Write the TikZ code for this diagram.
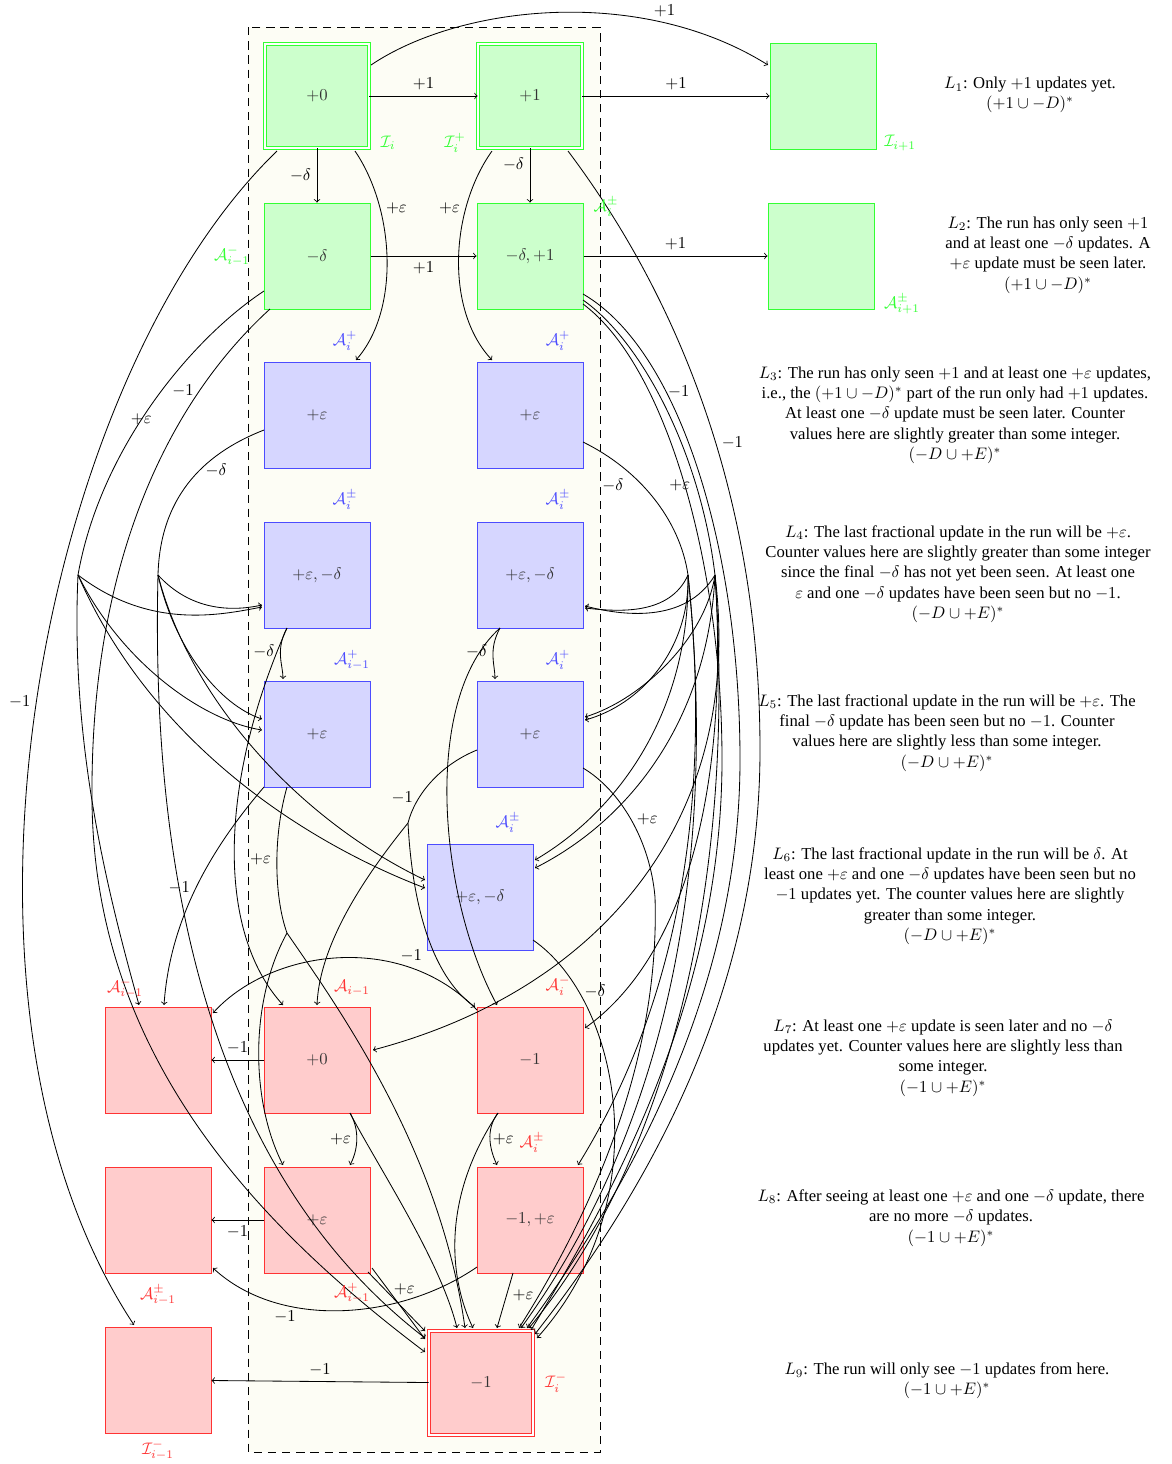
\documentclass[tikz,border=0pt]{standalone}
\usepackage{fontspec}
\setmainfont{Liberation Serif}
\usetikzlibrary{calc}
\definecolor{ivory}{RGB}{253,253,245}
\begin{document}
\begin{tikzpicture}[x=0.6pt,y=-0.6pt,
  box/.style={minimum width=63.6pt,minimum height=63.6pt,inner sep=0pt,line width=0.6pt,text=black!80},
  gbox/.style={box,fill=green!20,draw=green!80},
  bbox/.style={box,fill=blue!16,draw=blue!70},
  rbox/.style={box,fill=red!20,draw=red!80},
  dbl/.style={double=white,double distance=1.4pt,line width=0.5pt,minimum width=62.4pt,minimum height=62.4pt},
  e/.style={->,line width=0.5pt},
  ln/.style={line width=0.5pt},
  gl/.style={text=green!80,inner sep=1pt},
  bl/.style={text=blue!70,inner sep=1pt},
  rl/.style={text=red!80,inner sep=1pt},
  txt/.style={align=center,font=\fontsize{10}{12.2}\selectfont}
]
\useasboundingbox (0,0) rectangle (1172,1464);
\draw[dash pattern=on 5pt off 3.5pt,fill=ivory,line width=0.6pt] (248,27) rectangle (600,1452);

% boxes
\node[gbox,dbl] (Ii)  at (317,96) {$+0$};
\node[gbox,dbl] (Iip) at (530,96) {$+1$};
\node[gbox] (Iin) at (823,96) {};
\node[gbox] (Am)  at (317,256) {$-\delta$};
\node[gbox] (Apm) at (530,256) {$-\delta,+1$};
\node[gbox] (Apmn) at (821,256) {};
\node[bbox] (B1) at (317,415) {$+\varepsilon$};
\node[bbox] (B2) at (530,415) {$+\varepsilon$};
\node[bbox] (B3) at (317,575) {$+\varepsilon,-\delta$};
\node[bbox] (B4) at (530,575) {$+\varepsilon,-\delta$};
\node[bbox] (B5) at (317,734) {$+\varepsilon$};
\node[bbox] (B6) at (530,734) {$+\varepsilon$};
\node[bbox] (B7) at (480,897) {$+\varepsilon,-\delta$};
\node[rbox] (R1) at (158,1060) {};
\node[rbox] (R2) at (317,1060) {$+0$};
\node[rbox] (R3) at (530,1060) {$-1$};
\node[rbox] (R4) at (158,1220) {};
\node[rbox] (R5) at (317,1220) {$+\varepsilon$};
\node[rbox] (R6) at (530,1220) {$-1,+\varepsilon$};
\node[rbox] (R7) at (158,1380) {};
\node[rbox,dbl] (R8) at (481,1383) {$-1$};

% fan points
\coordinate (fA) at (78,575);
\coordinate (fB) at (158,575);
\coordinate (fC) at (688,575);
\coordinate (fD) at (715,575);
\coordinate (fE) at (287,933);
\coordinate (fF) at (655,897);
\coordinate (fG) at (408,823);

% top edges
\draw[e] (Ii) -- node[above]{$+1$} (Iip);
\draw[e] (Iip) -- node[above]{$+1$} (Iin);
\draw[e] ($(Ii)+(54,-31)$) .. controls (460,5) and (640,-15) .. ($(Iin)+(-55,-31)$) node[pos=0.75,above]{$+1$};
\draw[e] (Ii) -- node[left]{$-\delta$} (Am);
\draw[e] (Iip) -- node[left,pos=0.3]{$-\delta$} (Apm);
\draw[e] (Am) -- node[below]{$+1$} (Apm);
\draw[e] (Apm) -- node[above]{$+1$} (Apmn);
\draw[e] ($(Ii)+(38,55)$) .. controls (395,210) and (400,310) .. ($(B1)+(39,-55)$) node[pos=0.28,right]{$+\varepsilon$};
\draw[e] ($(Iip)+(-38,55)$) .. controls (450,210) and (445,310) .. ($(B2)+(-38,-55)$) node[pos=0.28,left]{$+\varepsilon$};

% long left curves
\draw[e] ($(Ii)+(-40,55)$) .. controls (40,380) and (-80,1000) .. ($(R7)+(-24,-55)$) node[pos=0.5,left]{$-1$};
\draw[ln] ($(Am)+(-53,35)$) .. controls (190,340) and (100,450) .. (fA) node[pos=0.55]{$+\varepsilon$};
\draw[e] ($(Am)+(-47,53)$) .. controls (170,400) and (90,560) .. (92,800) node[pos=0.25,left]{$-1$} .. controls (94,1050) and (250,1220) .. ($(R8)+(-56,-31)$);
\draw[ln] ($(B1)+(-53,15)$) .. controls (200,455) and (160,500) .. (fB) node[pos=0.4,right]{$-\delta$};

% long right curves
\draw[e] ($(Iip)+(38,55)$) .. controls (680,300) and (760,500) .. (760,750) node[pos=0.55,right]{$-1$} .. controls (760,1000) and (640,1200) .. ($(R8)+(54,-49)$);
\draw[ln] ($(Apm)+(53,44)$) .. controls (640,340) and (700,450) .. (fD) node[pos=0.75,left]{$+\varepsilon$};
\draw[e] ($(Apm)+(53,38)$) .. controls (680,350) and (740,550) .. (740,760) node[pos=0.33,right,inner sep=1pt]{$-1$} .. controls (740,1000) and (620,1200) .. ($(R8)+(46,-55)$);
\draw[e] ($(Apm)+(53,48)$) .. controls (665,365) and (722,560) .. (722,760) .. controls (722,1000) and (610,1200) .. ($(R8)+(50,-53)$);
\draw[ln] ($(B2)+(53,27)$) .. controls (640,470) and (680,520) .. (fC) node[pos=0.3,below left]{$-\delta$};

% right fans
\draw[e] (fC) .. controls (670,615) and (620,612) .. ($(B4)+(55,33)$);
\draw[e] (fD) .. controls (685,625) and (620,615) .. ($(B4)+(55,31)$);
\draw[e] (fC) .. controls (690,650) and (640,705) .. ($(B6)+(55,-14)$);
\draw[e] (fD) .. controls (705,640) and (640,700) .. ($(B6)+(55,-17)$);
\draw[e] (fC) .. controls (690,710) and (620,810) .. ($(B7)+(55,-37)$);
\draw[e] (fD) .. controls (708,720) and (630,820) .. ($(B7)+(55,-29)$);
\draw[e] (fC) .. controls (712,800) and (680,1000) .. ($(R6)+(48,-55)$);
\draw[e] (fC) .. controls (722,900) and (650,1150) .. ($(R8)+(40,-55)$);
\draw[e] (fD) .. controls (730,800) and (680,960) .. ($(R3)+(55,-32)$);
\draw[e] (fD) .. controls (745,820) and (600,990) .. ($(R2)+(56,-10)$);
\draw[e] (fD) .. controls (738,900) and (660,1170) .. ($(R8)+(48,-55)$);

% left fans
\draw[e] (fA) .. controls (150,630) and (220,615) .. ($(B3)+(-55,32)$);
\draw[e] (fB) .. controls (190,610) and (230,612) .. ($(B3)+(-55,30)$);
\draw[e] (fA) .. controls (120,660) and (200,720) .. ($(B5)+(-55,-4)$);
\draw[e] (fB) .. controls (175,650) and (220,705) .. ($(B5)+(-55,-15)$);
\draw[e] (fA) .. controls (150,740) and (300,840) .. ($(B7)+(-55,-9)$);
\draw[e] (fB) .. controls (190,700) and (300,820) .. ($(B7)+(-55,-17)$);
\draw[e] (fA) .. controls (70,750) and (110,900) .. ($(R1)+(-19,-55)$);
\draw[e] (fB) .. controls (150,900) and (220,1180) .. ($(R8)+(-56,-45)$);

% centre edges
\draw[e] ($(B3)+(-30,53)$) .. controls (275,650) and (283,665) .. ($(B5)+(-34,-55)$) node[pos=0.4,left]{$-\delta$};
\draw[e] ($(B4)+(-30,53)$) .. controls (488,650) and (495,665) .. ($(B6)+(-35,-55)$) node[pos=0.4,left]{$-\delta$};
\draw[e] ($(B3)+(-30,53)$) .. controls (220,780) and (215,930) .. ($(R2)+(-34,-55)$);
\draw[e] ($(B4)+(-30,53)$) .. controls (420,700) and (440,900) .. ($(R3)+(-33,-55)$);
\draw[ln] ($(B5)+(-30,53)$) .. controls (272,840) and (275,900) .. (fE) node[pos=0.45,left]{$+\varepsilon$};
\draw[e] (fE) .. controls (250,1000) and (250,1100) .. ($(R5)+(-34,-55)$);
\draw[e] (fE) .. controls (340,1010) and (440,1150) .. ($(R8)+(-16,-55)$);
\draw[e] ($(B5)+(-53,53)$) .. controls (210,850) and (170,920) .. ($(R1)+(6,-55)$) node[pos=0.5,left]{$-1$};
\draw[ln] ($(B6)+(-53,16)$) .. controls (440,765) and (415,795) .. (fG) node[pos=0.7,left]{$-1$};
\draw[e] (fG) .. controls (370,870) and (320,940) .. ($(R2)+(0,-55)$);
\draw[e] (fG) .. controls (412,900) and (430,975) .. ($(R3)+(-55,-53)$);
\draw[ln] ($(B6)+(53,34)$) .. controls (620,790) and (650,840) .. (fF) node[pos=0.5,right]{$+\varepsilon$};
\draw[e] (fF) .. controls (660,1050) and (600,1200) .. ($(R8)+(38,-55)$);
\draw[e] ($(B7)+(53,43)$) .. controls (620,1000) and (660,1200) .. ($(R8)+(56,-45)$) node[pos=0.2,right]{$-\delta$};

% red edges
\draw[e] (R2) -- node[above]{$-1$} (R1);
\draw[e] (R5) -- node[below]{$-1$} (R4);
\draw[e] (R8) -- node[above]{$-1$} (R7);
\draw[e] ($(R3)+(-53,-50)$) .. controls (400,930) and (270,950) .. ($(R1)+(55,-47)$) node[pos=0.25,above]{$-1$};
\draw[e] ($(R2)+(33,53)$) .. controls (360,1130) and (358,1150) .. ($(R5)+(33,-55)$) node[pos=0.5,left]{$+\varepsilon$};
\draw[e] ($(R3)+(-32,53)$) .. controls (485,1130) and (490,1150) .. ($(R6)+(-33,-55)$) node[pos=0.5,right,inner sep=1.5pt]{$+\varepsilon$};
\draw[e] ($(R6)+(-53,47)$) .. controls (400,1320) and (280,1330) .. ($(R4)+(55,48)$) node[pos=0.7,below]{$-1$};
\draw[e] ($(R2)+(33,53)$) .. controls (380,1170) and (440,1260) .. ($(R8)+(-24,-55)$);
\draw[e] ($(R3)+(-32,53)$) .. controls (440,1200) and (450,1280) .. ($(R8)+(-8,-55)$);
\draw[e] ($(R5)+(51,52)$) -- ($(R8)+(-56,-52)$);
\draw[e] ($(R5)+(55,48)$) -- ($(R8)+(-56,-44)$) node[pos=0.3,right]{$+\varepsilon$};
\draw[e] ($(R6)+(-17,53)$) -- ($(R8)+(16,-55)$) node[pos=0.4,right]{$+\varepsilon$};

% state labels
\node[gl] (lIi) at (388,143) {$\mathcal{I}_i$};
\node[gl] (lIip) at (455,143) {$\mathcal{I}_i^+$};
\node[gl] (lIin) at (900,143) {$\mathcal{I}_{i+1}$};
\node[gl] (lAm) at (232,256) {$\mathcal{A}_{i-1}^-$};
\node[gl] (lApm) at (606,207) {$\mathcal{A}_i^\pm$};
\node[gl] (lApmn) at (902,304) {$\mathcal{A}_{i+1}^\pm$};
\node[bl] (lB1) at (345,341) {$\mathcal{A}_i^+$};
\node[bl] (lB2) at (558,341) {$\mathcal{A}_i^+$};
\node[bl] (lB3) at (345,500) {$\mathcal{A}_i^\pm$};
\node[bl] (lB4) at (558,500) {$\mathcal{A}_i^\pm$};
\node[bl] (lB5) at (352,660) {$\mathcal{A}_{i-1}^+$};
\node[bl] (lB6) at (558,660) {$\mathcal{A}_i^+$};
\node[bl] (lB7) at (508,823) {$\mathcal{A}_i^\pm$};
\node[rl] (lR1) at (125,988) {$\mathcal{A}_{i-1}^-$};
\node[rl] (lR2) at (352,988) {$\mathcal{A}_{i-1}$};
\node[rl] (lR3) at (558,986) {$\mathcal{A}_i^-$};
\node[rl] (lR4) at (158,1295) {$\mathcal{A}_{i-1}^\pm$};
\node[rl] (lR5) at (352,1293) {$\mathcal{A}_{i-1}^+$};
\node[rl] (lR6) at (532,1143) {$\mathcal{A}_i^\pm$};
\node[rl] (lR7) at (158,1450) {$\mathcal{I}_{i-1}^-$};
\node[rl] (lR8) at (556,1383) {$\mathcal{I}_i^-$};

% level descriptions
\node[txt] (L1) at (1030,95) {$L_1$: Only $+1$ updates yet.\\ $(+1\cup -D)^*$};
\node[txt] (L2) at (1048,255) {$L_2$: The run has only seen $+1$\\ and at least one $-\delta$ updates. A\\ $+\varepsilon$ update must be seen later.\\ $(+1\cup -D)^*$};
\node[txt] (L3) at (955,415) {$L_3$: The run has only seen $+1$ and at least one $+\varepsilon$ updates,\\ i.e., the $(+1\cup -D)^*$ part of the run only had $+1$ updates.\\ At least one $-\delta$ update must be seen later. Counter\\ values here are slightly greater than some integer.\\ $(-D\cup +E)^*$};
\node[txt] (L4) at (958,574) {$L_4$: The last fractional update in the run will be $+\varepsilon$.\\ Counter values here are slightly greater than some integer\\ since the final $-\delta$ has not yet been seen. At least one\\ $\varepsilon$ and one $-\delta$ updates have been seen but no $-1$.\\ $(-D\cup +E)^*$};
\node[txt] (L5) at (947,733) {$L_5$: The last fractional update in the run will be $+\varepsilon$. The\\ final $-\delta$ update has been seen but no $-1$. Counter\\ values here are slightly less than some integer.\\ $(-D\cup +E)^*$};
\node[txt] (L6) at (950,896) {$L_6$: The last fractional update in the run will be $\delta$. At\\ least one $+\varepsilon$ and one $-\delta$ updates have been seen but no\\ $-1$ updates yet. The counter values here are slightly\\ greater than some integer.\\ $(-D\cup +E)^*$};
\node[txt] (L7) at (943,1058) {$L_7$: At least one $+\varepsilon$ update is seen later and no $-\delta$\\ updates yet. Counter values here are slightly less than\\ some integer.\\ $(-1\cup +E)^*$};
\node[txt] (L8) at (951,1218) {$L_8$: After seeing at least one $+\varepsilon$ and one $-\delta$ update, there\\ are no more $-\delta$ updates.\\ $(-1\cup +E)^*$};
\node[txt] (L9) at (947,1381) {$L_9$: The run will only see $-1$ updates from here.\\ $(-1\cup +E)^*$};
\end{tikzpicture}
\end{document}
